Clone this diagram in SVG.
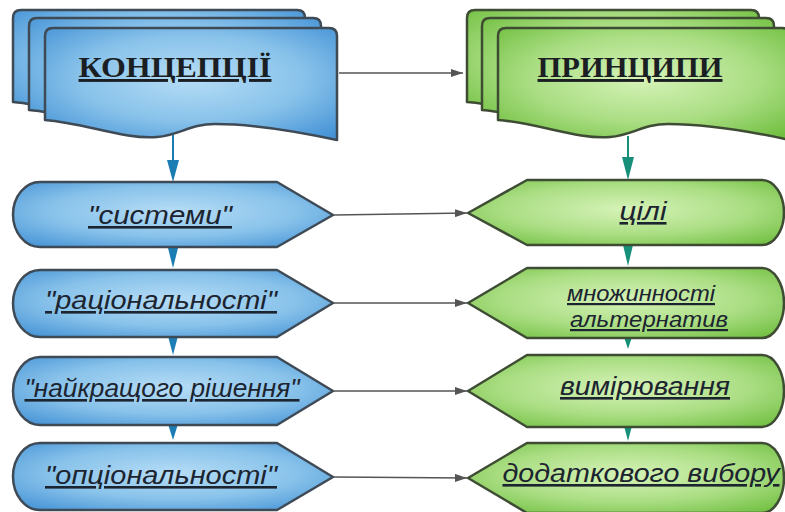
<svg xmlns="http://www.w3.org/2000/svg" xmlns:xlink="http://www.w3.org/1999/xlink" width="785" height="512" viewBox="0 0 785 512">
  <defs>
    <radialGradient id="gBlue" cx="0.5" cy="0.45" r="0.7">
      <stop offset="0" stop-color="#b6ddf6"/>
      <stop offset="0.55" stop-color="#88c2ea"/>
      <stop offset="1" stop-color="#4593d6"/>
    </radialGradient>
    <radialGradient id="gGreen" cx="0.5" cy="0.45" r="0.7">
      <stop offset="0" stop-color="#d6f3b8"/>
      <stop offset="0.55" stop-color="#abde84"/>
      <stop offset="1" stop-color="#70bf40"/>
    </radialGradient>
    <!-- one document sheet, top-left at 0,0 -->
    <path id="sheet" d="M0,8 Q0,0 8,0 L284,0 Q292,0 292,8 L292,112 C255,104 210,96 170,96 C145,96 135,107 112,109 C80,112 40,95 0,92 Z"/>
    <marker id="mGray" viewBox="0 0 12 8" refX="12" refY="4" markerWidth="12" markerHeight="8" markerUnits="userSpaceOnUse" orient="auto">
      <path d="M0,0 L12,4 L0,8 Z" fill="#555"/>
    </marker>
  </defs>
  <style>
    .blue { fill: url(#gBlue); stroke: #3e4a55; stroke-width: 2.5; stroke-linejoin: round; }
    .green { fill: url(#gGreen); stroke: #3e4c34; stroke-width: 2.5; stroke-linejoin: round; }
    .head { font-family: "Liberation Serif", "DejaVu Serif", serif; font-weight: bold; font-size: 29px; fill: #1b1f24; text-anchor: middle; text-decoration: underline; }
    .lbl { font-family: "Liberation Sans", Arial, sans-serif; font-style: italic; font-size: 26px; fill: #1c2430; text-anchor: middle; text-decoration: underline; }
    .sm { font-size: 22px; }
    .link { stroke: #555; stroke-width: 1.6; fill: none; }
    .dl { stroke: #1c7db5; stroke-width: 2; fill: none; }
    .dr { stroke: #17907a; stroke-width: 2; fill: none; }
    .tri-l { fill: #1c7db5; }
    .tri-r { fill: #17907a; }
  </style>

  <rect width="785" height="512" fill="#ffffff"/>

  <!-- connectors -->
  <g id="connectors">
    <line class="link" x1="339" y1="73" x2="463" y2="73" marker-end="url(#mGray)"/>
    <line class="link" x1="334" y1="215" x2="467" y2="213" marker-end="url(#mGray)"/>
    <line class="link" x1="334" y1="303" x2="467" y2="303" marker-end="url(#mGray)"/>
    <line class="link" x1="334" y1="391" x2="467" y2="391" marker-end="url(#mGray)"/>
    <line class="link" x1="334" y1="477" x2="467" y2="478" marker-end="url(#mGray)"/>
    <!-- downward flow, left column -->
    <line class="dl" x1="173" y1="135" x2="173" y2="163"/>
    <path class="tri-l" d="M167,160 L179,160 L173,182 Z"/>
    <path class="tri-l" d="M168,248 L178,248 L173,268 Z"/>
    <path class="tri-l" d="M168,336 L178,336 L173,355 Z"/>
    <path class="tri-l" d="M168,424 L178,424 L173,440 Z"/>
    <!-- downward flow, right column -->
    <line class="dr" x1="628" y1="136" x2="628" y2="160"/>
    <path class="tri-r" d="M622,157 L634,157 L628,180 Z"/>
    <path class="tri-r" d="M623,245 L633,245 L628,266 Z"/>
    <path class="tri-r" d="M623,334 L633,334 L628,349 Z"/>
    <path class="tri-r" d="M623,422 L633,422 L628,441 Z"/>
  </g>

  <!-- concept document stack -->
  <g id="concepts">
    <use xlink:href="#sheet" class="blue" transform="translate(13,10)"/>
    <use xlink:href="#sheet" class="blue" transform="translate(29,18)"/>
    <use xlink:href="#sheet" class="blue" transform="translate(45,28)"/>
    <text class="head" x="175" y="77" textLength="193" lengthAdjust="spacingAndGlyphs">КОНЦЕПЦІЇ</text>
  </g>

  <!-- principle document stack -->
  <g id="principles">
    <use xlink:href="#sheet" class="green" transform="translate(467,10)"/>
    <use xlink:href="#sheet" class="green" transform="translate(482,18)"/>
    <use xlink:href="#sheet" class="green" transform="translate(498,28)"/>
    <text class="head" x="630" y="77" textLength="185" lengthAdjust="spacingAndGlyphs">ПРИНЦИПИ</text>
  </g>

  <!-- concepts -->
  <g id="c-system">
    <path class="blue" d="M40,182 L277,182 L333,215 L277,247 L40,247 A27,32.5 0 0 1 40,182 Z"/>
    <text class="lbl" x="160" y="224" textLength="144" lengthAdjust="spacingAndGlyphs">"системи"</text>
  </g>
  <g id="c-rational">
    <path class="blue" d="M40,270 L277,270 L333,303 L277,337 L40,337 A27,33.5 0 0 1 40,270 Z"/>
    <text class="lbl" x="161" y="309" textLength="232" lengthAdjust="spacingAndGlyphs">"раціональності"</text>
  </g>
  <g id="c-best">
    <path class="blue" d="M40,357 L277,357 L333,391 L277,425 L40,425 A27,34 0 0 1 40,357 Z"/>
    <text class="lbl" x="162" y="397" textLength="275" lengthAdjust="spacingAndGlyphs">"найкращого рішення"</text>
  </g>
  <g id="c-optional">
    <path class="blue" d="M40,443 L277,443 L333,477 L277,510 L40,510 A27,33.5 0 0 1 40,443 Z"/>
    <text class="lbl" x="161" y="484" textLength="232" lengthAdjust="spacingAndGlyphs">"опціональності"</text>
  </g>

  <!-- principles -->
  <g id="p-goal">
    <path class="green" d="M527,180 L762,180 A22,32.5 0 0 1 762,245 L527,245 L468,213 Z"/>
    <text class="lbl" x="643" y="220" textLength="47" lengthAdjust="spacingAndGlyphs">цілі</text>
  </g>
  <g id="p-alternatives">
    <path class="green" d="M527,268 L762,268 A22,35 0 0 1 762,338 L527,338 L468,303 Z"/>
    <text class="lbl sm" x="641" y="301" textLength="148" lengthAdjust="spacingAndGlyphs">множинності</text>
    <text class="lbl sm" x="649" y="327" textLength="158" lengthAdjust="spacingAndGlyphs">альтернатив</text>
  </g>
  <g id="p-measure">
    <path class="green" d="M527,355 L762,355 A22,36 0 0 1 762,427 L527,427 L468,391 Z"/>
    <text class="lbl" x="645" y="395" textLength="170" lengthAdjust="spacingAndGlyphs">вимірювання</text>
  </g>
  <g id="p-choice">
    <path class="green" d="M527,443 L762,443 A22,35 0 0 1 762,513 L527,513 L468,478 Z"/>
    <text class="lbl" x="641" y="482" textLength="277" lengthAdjust="spacingAndGlyphs">додаткового вибору</text>
  </g>
</svg>
